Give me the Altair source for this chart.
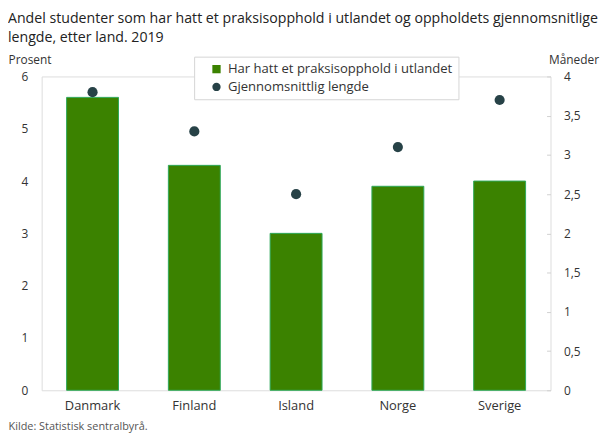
import altair as alt
import pandas as pd

land = ["Danmark", "Finland", "Island", "Norge", "Sverige"]
andel = [5.6, 4.3, 3.0, 3.9, 4.0]
lengde = [3.8, 3.3, 2.5, 3.1, 3.7]
serie_bar = "Har hatt et praksisopphold i utlandet"
serie_dot = "Gjennomsnittlig lengde"
tittel = ["Andel studenter som har hatt et praksisopphold i utlandet og oppholdets gjennomsnitlige",
          "lengde, etter land. 2019"]
kilde = "Kilde: Statistisk sentralbyrå."

bars_df = pd.DataFrame({"land": land, "verdi": andel, "serie": serie_bar})
dots_df = pd.DataFrame({"land": land, "verdi": lengde, "serie": serie_dot})

FONT = "Open Sans"
TXT = "#333333"
W, H = 514, 317

color_scale = alt.Scale(domain=[serie_bar, serie_dot], range=["#3b8200", "#274247"])
shape_scale = alt.Scale(domain=[serie_bar, serie_dot], range=["square", "circle"])

legend = alt.Legend(
    title=None, orient="none", legendX=154, legendY=-20, direction="vertical",
    fillColor="white", strokeColor="#d6d6d6", padding=6,
    labelFont=FONT, labelFontSize=13.2, labelColor=TXT, symbolSize=70,
    rowPadding=4, symbolStrokeWidth=0, labelOffset=5, labelLimit=400,
    symbolOffset=10,
)

x = alt.X(
    "land:N", sort=land,
    scale=alt.Scale(paddingInner=0.49, paddingOuter=0.245),
    axis=alt.Axis(
        title=kilde, titleAnchor="start", titleX=-34, titleY=40, titleAlign="left",
        titleBaseline="alphabetic", titleFont=FONT, titleFontSize=11,
        titleFontWeight="normal", titleColor="#555555",
        labelAngle=0, ticks=False, domain=False, labelPadding=9,
        labelFont=FONT, labelFontSize=13, labelColor=TXT,
    ),
)

bars = alt.Chart(bars_df).mark_bar(stroke="#2fa85a", strokeWidth=1).encode(
    x=x,
    y=alt.Y(
        "verdi:Q",
        scale=alt.Scale(domain=[0, 6], nice=False),
        axis=alt.Axis(
            title="Prosent", titleAngle=0, titleX=-34, titleY=-13, titleAlign="left",
            titleBaseline="alphabetic", titleFont=FONT, titleFontSize=12,
            titleFontWeight="normal", titleColor=TXT,
            values=[0, 1, 2, 3, 4, 5, 6], ticks=False, domain=False, grid=False,
            labelPadding=14, labelFont=FONT, labelFontSize=12, labelColor=TXT,
        ),
    ),
    color=alt.Color("serie:N", scale=color_scale, legend=legend),
)

dots = alt.Chart(dots_df).mark_point(filled=True, size=105, opacity=1).encode(
    x=alt.X("land:N", sort=land),
    y=alt.Y(
        "verdi:Q",
        scale=alt.Scale(domain=[0, 4], nice=False),
        axis=alt.Axis(
            orient="right", offset=-4,
            title="Måneder", titleAngle=0, titleX=2, titleY=-13, titleAlign="left",
            titleBaseline="alphabetic", titleFont=FONT, titleFontSize=12,
            titleFontWeight="normal", titleColor=TXT,
            values=[0, 0.5, 1, 1.5, 2, 2.5, 3, 3.5, 4],
            labelExpr="replace(format(datum.value, '~g'), '.', ',')",
            ticks=True, tickSize=4, tickColor="#d0d0d0", domain=False, grid=False,
            labelPadding=13, labelFont=FONT, labelFontSize=12, labelColor=TXT,
        ),
    ),
    color=alt.Color("serie:N", scale=color_scale, legend=legend),
    shape=alt.Shape("serie:N", scale=shape_scale, legend=legend),
)

chart = (
    alt.layer(bars, dots)
    .resolve_scale(y="independent")
    .properties(
        width=W, height=H,
        autosize=alt.AutoSizeParams(type="none"),
        padding={"left": 34, "top": 67, "right": 52, "bottom": 41},
        title=alt.TitleParams(
            text=tittel, anchor="start", frame="group", dx=-34, dy=-8, offset=0,
            font=FONT, fontSize=14.3, fontWeight="normal", color="#222222", lineHeight=20,
        ),
    )
    .configure_view(stroke="#d9d9d9", strokeWidth=1)
    .configure(background="white")
)

chart.save("out.html", embed_options={"renderer": "svg", "actions": False})
